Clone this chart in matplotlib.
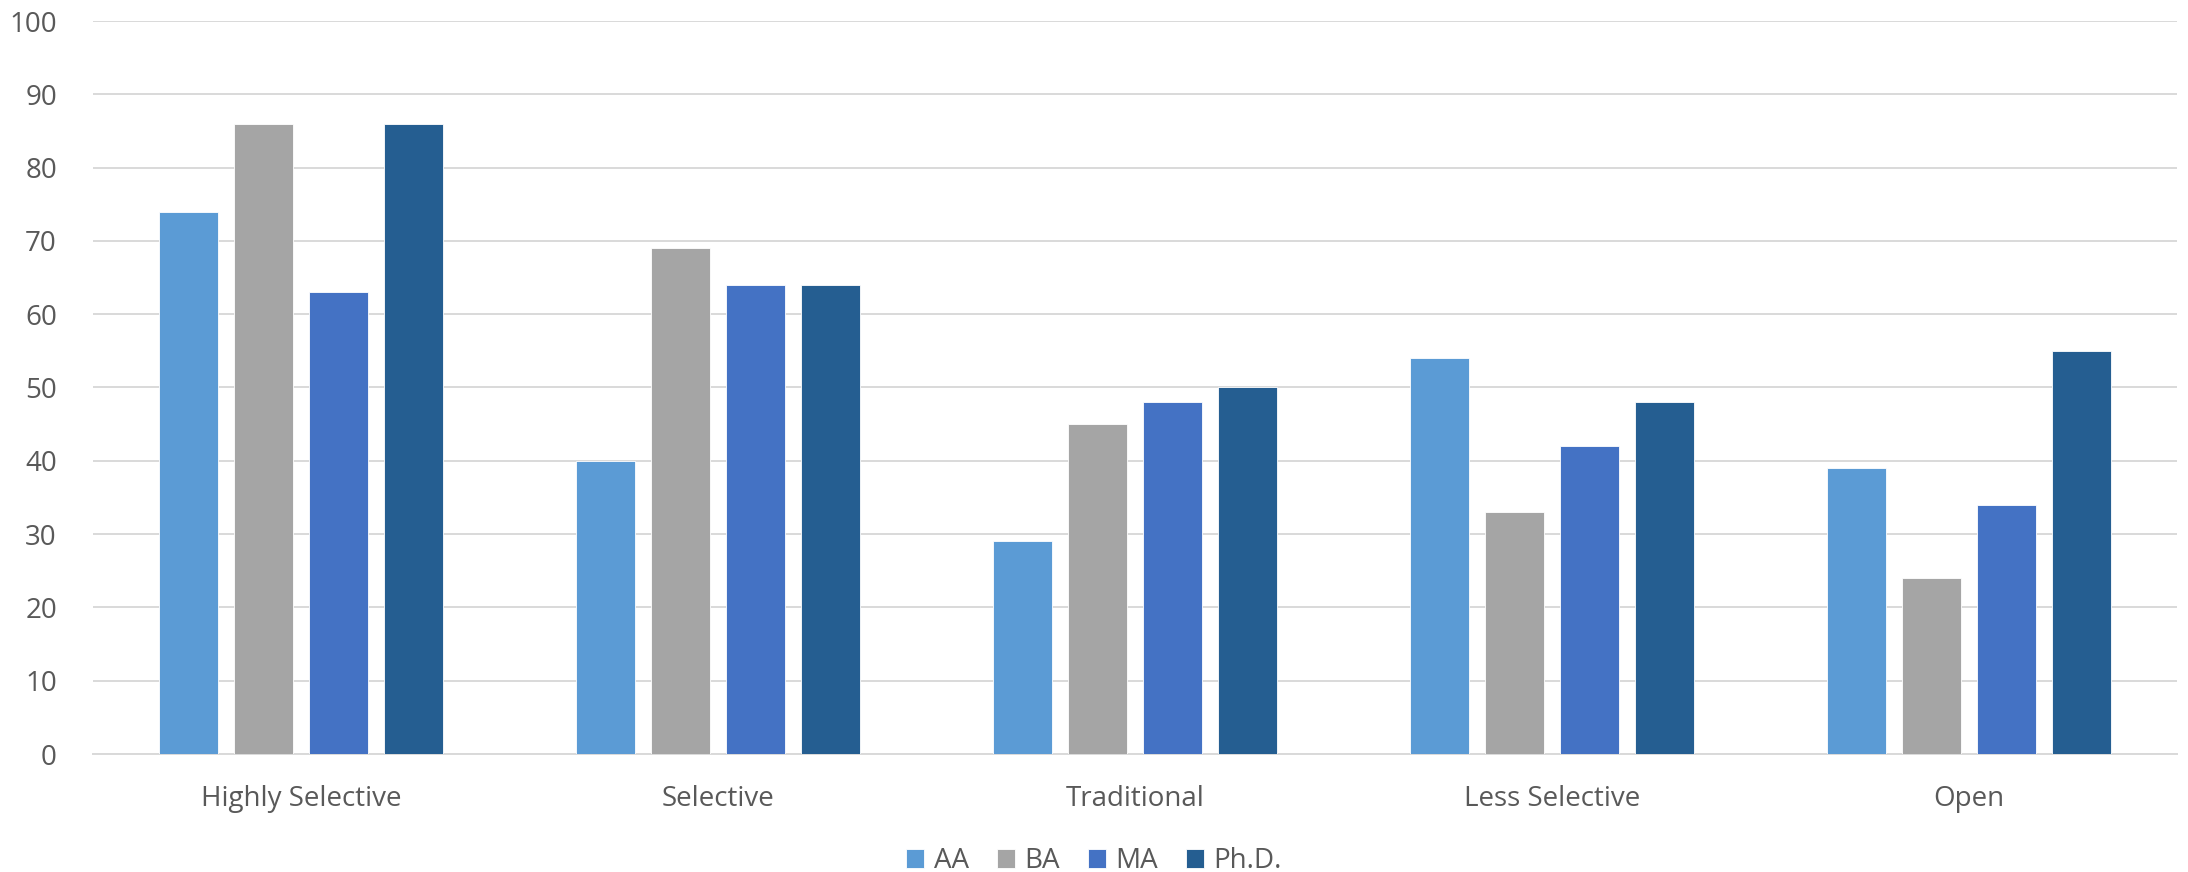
import numpy as np
import matplotlib
matplotlib.use('Agg')
import matplotlib.pyplot as plt

plt.rcParams['font.family'] = ['Open Sans', 'DejaVu Sans']

# data
categories = ['Highly Selective', 'Selective', 'Traditional', 'Less Selective', 'Open']
series_names = ['AA', 'BA', 'MA', 'Ph.D.']
aa = [74, 40, 29, 54, 39]
ba = [86, 69, 45, 33, 24]
ma = [63, 64, 48, 42, 34]
phd = [86, 64, 50, 48, 55]
colors = ['#5B9BD5', '#A5A5A5', '#4472C4', '#255E91']
yticks = [0, 10, 20, 30, 40, 50, 60, 70, 80, 90, 100]

text_color = '#595959'

fig = plt.figure(figsize=(21.88, 8.72), dpi=100)
ax = fig.add_axes([93 / 2188, 1 - 754 / 872, (2177 - 93) / 2188, (754 - 21) / 872])

x = np.arange(len(categories))
pitch = 0.18
width = 0.1416
for j, (vals, name, c) in enumerate(zip([aa, ba, ma, phd], series_names, colors)):
    ax.bar(x + (j - 1.5) * pitch, vals, width, color=c, label=name,
           edgecolor='white', linewidth=0.6, zorder=3)

ax.set_xlim(-0.5, len(categories) - 0.5)
ax.set_ylim(0, 100)
ax.set_yticks(yticks)
ax.yaxis.grid(True, color='#D9D9D9', linewidth=1.4, zorder=0)
ax.set_axisbelow(True)
for s in ['top', 'right', 'left']:
    ax.spines[s].set_visible(False)
ax.spines['bottom'].set_color('#D9D9D9')
ax.spines['bottom'].set_linewidth(1.4)

ax.set_xticks(x)
ax.set_xticklabels(categories)
ax.tick_params(axis='x', length=0, pad=22, labelsize=20, labelcolor=text_color)
ax.tick_params(axis='y', length=0, pad=26, labelsize=20, labelcolor=text_color)

leg = fig.legend(loc='center', bbox_to_anchor=(0.5, 1 - 861 / 872), ncol=4,
                 frameon=False, fontsize=20, handlelength=0.65, handleheight=0.65,
                 handletextpad=0.35, columnspacing=1.0)
for t in leg.get_texts():
    t.set_color(text_color)

fig.savefig('out.png', dpi=100, facecolor='white')
